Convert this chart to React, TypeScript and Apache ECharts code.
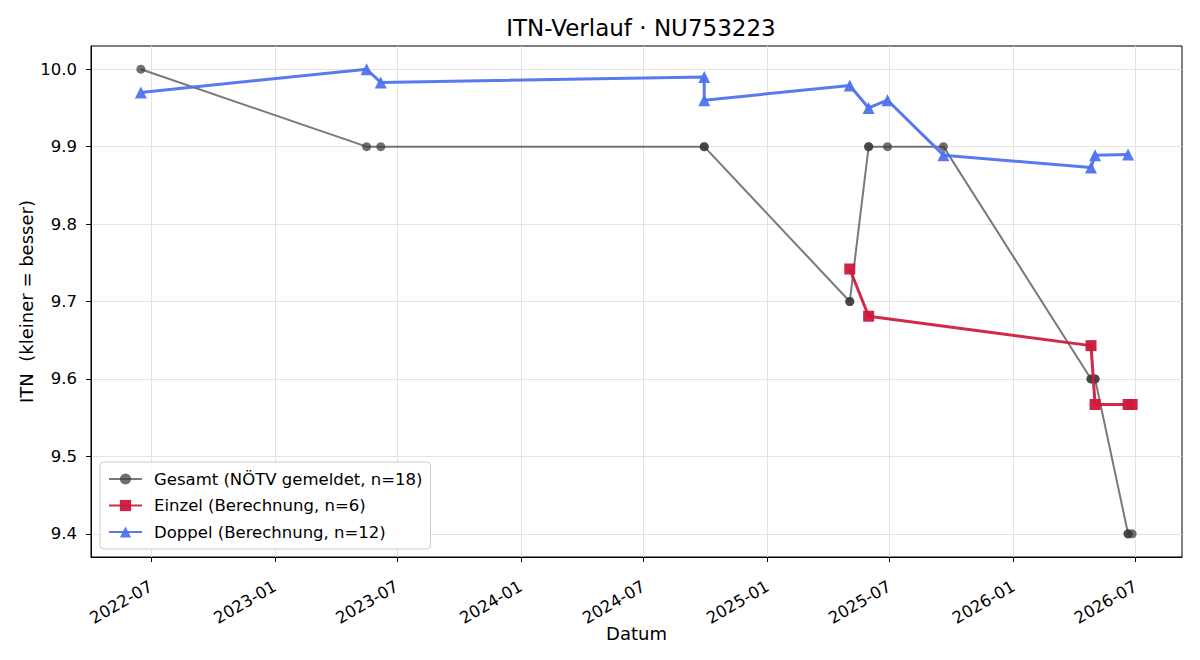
import React, { useEffect, useRef } from "react";
import * as echarts from "echarts";

// ---- Data ----
const gesamtDates = [
  "2022-06-16", "2023-05-17", "2023-06-07", "2024-09-29", "2024-09-29",
  "2025-05-03", "2025-05-03", "2025-05-31", "2025-05-31", "2025-06-28",
  "2025-09-19", "2026-04-26", "2026-04-26", "2026-05-02", "2026-05-02",
  "2026-06-20", "2026-06-20", "2026-06-26",
];
const gesamtValues = [
  10.0, 9.9, 9.9, 9.9, 9.9,
  9.7, 9.7, 9.9, 9.9, 9.9,
  9.9, 9.6, 9.6, 9.6, 9.6,
  9.4, 9.4, 9.4,
];

const einzelDates = ["2025-05-03", "2025-05-31", "2026-04-26", "2026-05-02", "2026-06-20", "2026-06-26"];
const einzelValues = [9.742, 9.681, 9.643, 9.567, 9.567, 9.567];

const doppelDates = [
  "2022-06-16", "2023-05-17", "2023-06-07", "2024-09-29", "2024-09-29", "2025-05-03",
  "2025-05-31", "2025-06-28", "2025-09-19", "2026-04-26", "2026-05-02", "2026-06-20",
];
const doppelValues = [9.97, 10.0, 9.983, 9.99, 9.96, 9.979, 9.95, 9.96, 9.889, 9.873, 9.889, 9.89];

const xTickDates = [
  "2022-07-01", "2023-01-01", "2023-07-01", "2024-01-01", "2024-07-01",
  "2025-01-01", "2025-07-01", "2026-01-01", "2026-07-01",
];
const yTicks = [9.4, 9.5, 9.6, 9.7, 9.8, 9.9, 10.0];

const xMinDate = "2022-04-03";
const xMaxDate = "2026-09-08";
const yMin = 9.37;
const yMax = 10.03;

const seriesNames = [
  "Gesamt (NÖTV gemeldet, n=18)",
  "Einzel (Berechnung, n=6)",
  "Doppel (Berechnung, n=12)",
];
const titleText = "ITN-Verlauf · NU753223";
const xAxisName = "Datum";
const yAxisName = "ITN  (kleiner = besser)";

// ---- helpers ----
const ts = (s: string) => {
  const [y, m, d] = s.split("-").map(Number);
  return new Date(y, m - 1, d).getTime();
};
const pairs = (dates: string[], vals: number[]) => dates.map((d, i) => [ts(d), vals[i]]);
const FONT = "DejaVu Sans";

export default function App() {
  const ref = useRef<HTMLDivElement>(null);

  useEffect(() => {
    if (!ref.current) return;
    const chart = echarts.init(ref.current, undefined, { renderer: "svg" });
    const option: any = {
      animation: false,
      backgroundColor: "#ffffff",
      textStyle: { fontFamily: FONT },
      title: {
        text: titleText,
        left: 636,
        top: 11,
        textAlign: "center",
        textStyle: { fontFamily: FONT, fontSize: 23, fontWeight: "normal", color: "#000" },
      },
      grid: {
        left: 91,
        right: 18,
        top: 46,
        bottom: 103,
        show: true,
        borderColor: "#000",
        borderWidth: 1,
        backgroundColor: "transparent",
      },
      legend: {
        orient: "vertical",
        left: 100,
        top: 462,
        itemWidth: 33,
        itemHeight: 14,
        itemGap: 8.5,
        padding: [8, 8, 8, 8],
        backgroundColor: "rgba(255,255,255,0.85)",
        borderColor: "#cccccc",
        borderWidth: 1,
        borderRadius: 4,
        textStyle: { fontFamily: FONT, fontSize: 16.5, color: "#000", lineHeight: 18, padding: [0, 0, 0, 7] },
        data: seriesNames,
      },
      xAxis: {
        type: "value",
        min: ts(xMinDate),
        max: ts(xMaxDate),
        name: xAxisName,
        nameLocation: "middle",
        nameGap: 67,
        nameMoveOverlap: false,
        nameTextStyle: { fontFamily: FONT, fontSize: 18, color: "#000" },
        axisLine: { show: true, onZero: false, lineStyle: { color: "#000", width: 1 } },
        axisTick: {
          show: true,
          length: 5,
          lineStyle: { color: "#000", width: 1 },
          customValues: xTickDates.map(ts),
        },
        axisLabel: {
          show: true,
          rotate: 30,
          margin: 28,
          fontFamily: FONT,
          fontSize: 16.5,
          color: "#000",
          customValues: xTickDates.map(ts),
          formatter: (v: number) => {
            const d = new Date(v);
            return `${d.getFullYear()}-${String(d.getMonth() + 1).padStart(2, "0")}`;
          },
        },
        splitLine: { show: true, lineStyle: { color: "#e3e3e3", width: 1 } },
      },
      yAxis: {
        type: "value",
        min: yMin,
        max: yMax,
        name: yAxisName,
        nameLocation: "middle",
        nameGap: 56,
        nameMoveOverlap: false,
        nameTextStyle: { fontFamily: FONT, fontSize: 18, color: "#000" },
        axisLine: { show: true, onZero: false, lineStyle: { color: "#000", width: 1 } },
        axisTick: {
          show: true,
          length: 5,
          lineStyle: { color: "#000", width: 1 },
          customValues: yTicks,
        },
        axisLabel: {
          show: true,
          margin: 14,
          fontFamily: FONT,
          fontSize: 16.5,
          color: "#000",
          customValues: yTicks,
          formatter: (v: number) => v.toFixed(1),
        },
        splitLine: { show: true, lineStyle: { color: "#e3e3e3", width: 1 } },
      },
      series: [
        {
          name: seriesNames[0],
          type: "line",
          data: pairs(gesamtDates, gesamtValues),
          symbol: "circle",
          symbolSize: 9,
          lineStyle: { color: "#3a3a3a", width: 2, opacity: 0.68 },
          itemStyle: { color: "#3a3a3a", opacity: 0.72 },
          z: 2,
        },
        {
          name: seriesNames[1],
          type: "line",
          data: pairs(einzelDates, einzelValues),
          symbol: "rect",
          symbolSize: 11,
          lineStyle: { color: "#d01c40", width: 3, opacity: 0.95 },
          itemStyle: { color: "#cc183c", opacity: 0.95 },
          z: 3,
        },
        {
          name: seriesNames[2],
          type: "line",
          data: pairs(doppelDates, doppelValues),
          symbol: "triangle",
          symbolSize: 12,
          lineStyle: { color: "#4f72ee", width: 3, opacity: 0.95 },
          itemStyle: { color: "#4f72ee", opacity: 0.95 },
          z: 4,
        },
      ],
    };
    chart.setOption(option);
    return () => chart.dispose();
  }, []);

  return (
    <div
      ref={ref}
      style={{ position: "fixed", left: 0, top: 0, width: 1200, height: 660, background: "#fff" }}
    />
  );
}
